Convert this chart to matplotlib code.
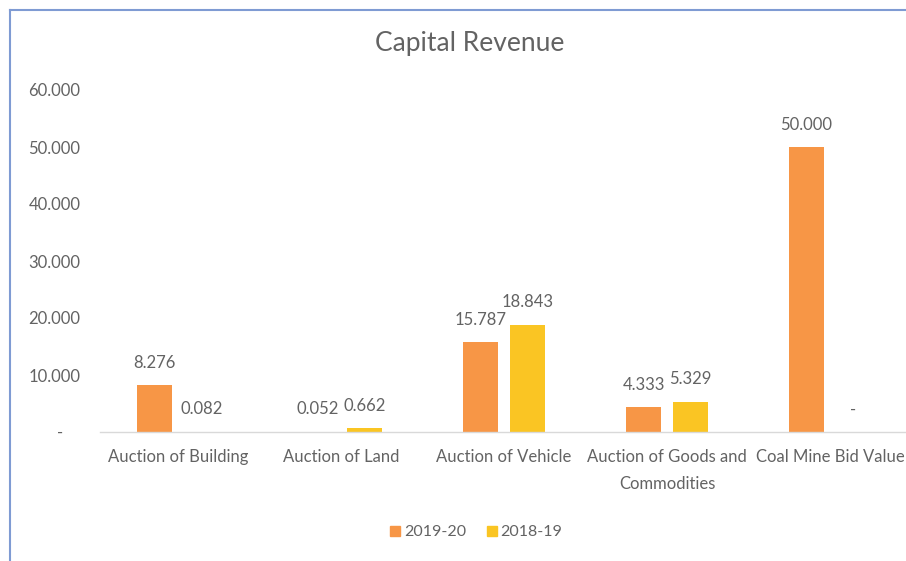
""" Capital Revenue bar chart """

import matplotlib
matplotlib.use("Agg")
import matplotlib.pyplot as plt
from matplotlib.lines import Line2D
import numpy as np

categories = ["Auction of Building", "Auction of Land", "Auction of Vehicle",
              "Auction of Goods and\nCommodities", "Coal Mine Bid Value"]
series_names = ["2019-20", "2018-19"]
values_2019_20 = [8.276, 0.052, 15.787, 4.333, 50.000]
values_2018_19 = [0.082, 0.662, 18.843, 5.329, 0.0]
y_ticks = [0, 10, 20, 30, 40, 50, 60]
y_tick_labels = ["-    ", "10.000", "20.000", "30.000", "40.000", "50.000", "60.000"]

plt.rcParams['font.family'] = ['Lato', 'DejaVu Sans']

W, H = 906, 561
fig = plt.figure(figsize=(W / 100, H / 100), dpi=100)
fig.patch.set_facecolor("white")

# axes box in pixels: left 100, right 906, baseline at 432, top (60) at 90
ax = fig.add_axes([100 / W, (H - 432) / H, 806 / W, (432 - 90) / H])

orange = "#F79646"
yellow = "#FAC523"
grey_text = "#636363"

x = np.arange(len(categories))
offset = 0.144
width = 0.215

bars1 = ax.bar(x - offset, values_2019_20, width, color=orange, label=series_names[0])
bars2 = ax.bar(x + offset, values_2018_19, width, color=yellow, label=series_names[1])

# data labels
for bars, vals in [(bars1, values_2019_20), (bars2, values_2018_19)]:
    for b, v in zip(bars, vals):
        txt = "{:.3f}".format(v) if v > 0 else "-"
        ax.annotate(txt, (b.get_x() + b.get_width() / 2, v),
                    xytext=(0, 16), textcoords="offset points",
                    ha="center", va="center", fontsize=12, color=grey_text)

ax.set_xlim(-0.479, -0.479 + 806 / 163)
ax.set_ylim(0, 60)
ax.set_xticks(x)
ax.set_xticklabels(categories, fontsize=12, color=grey_text, linespacing=1.9)
ax.set_yticks(y_ticks)
ax.set_yticklabels(y_tick_labels, fontsize=12, color=grey_text)
ax.tick_params(axis="x", length=0, pad=12)
ax.tick_params(axis="y", length=0, pad=14)

for side in ["top", "right", "left"]:
    ax.spines[side].set_visible(False)
ax.spines["bottom"].set_color("#D9D9D9")
ax.spines["bottom"].set_linewidth(1.0)
ax.set_facecolor("none")

fig.text(470 / W, 1 - 44 / H, "Capital Revenue", ha="center", va="center",
         fontsize=19, color=grey_text)

handles = [Line2D([], [], marker="s", linestyle="none", markersize=7.5,
                  color=orange),
           Line2D([], [], marker="s", linestyle="none", markersize=7.5,
                  color=yellow)]
fig.legend(handles, series_names, loc="center", ncol=2,
           bbox_to_anchor=(475 / W, 1 - 532 / H), frameon=False,
           fontsize=11.5, labelcolor=grey_text, handletextpad=0.05,
           columnspacing=1.1, handlelength=1.0)

# blue frame on top and left
border = "#7F9BD3"
fig.add_artist(Line2D([10 / W, 10 / W], [0, 1 - 10 / H], color=border,
                      linewidth=1.5, transform=fig.transFigure))
fig.add_artist(Line2D([10 / W, 1], [1 - 10 / H, 1 - 10 / H], color=border,
                      linewidth=1.5, transform=fig.transFigure))

fig.savefig("out.png", dpi=100)
